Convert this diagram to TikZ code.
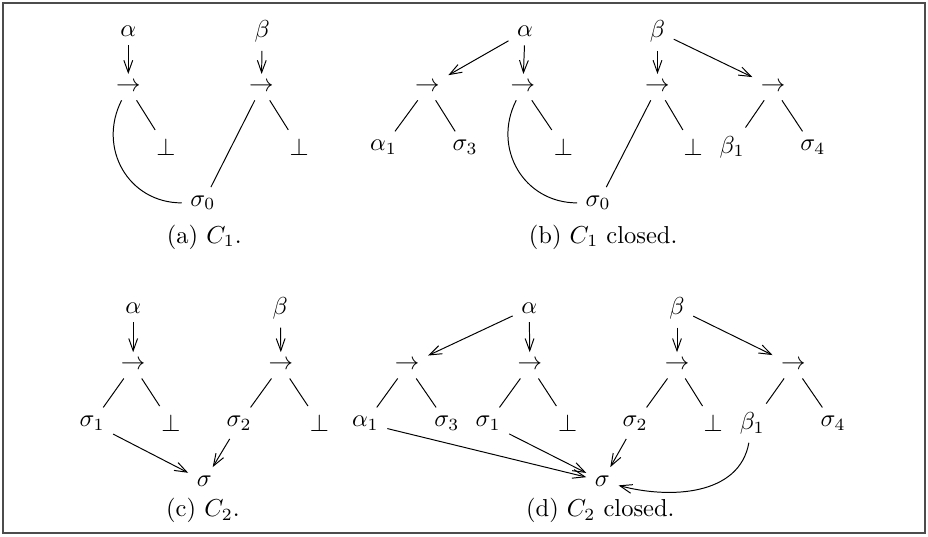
\documentclass[tikz,border=0pt]{standalone}
\usepackage{amsmath}
\usetikzlibrary{arrows.meta}

\begin{document}
\begin{tikzpicture}
\tikzstyle{frame}=[draw=black!70,line width=0.8pt]
\tikzstyle{link}=[-{Straight Barb[length=5pt,width=3.6pt]}]
\tikzstyle{branch}=[-]
\tikzstyle{loop}=[out=243,in=180,looseness=1.15]

\useasboundingbox (0,0) rectangle (13.31,-7.69);
\draw[frame] (0.04,-0.04) rectangle (13.27,-7.65);

% (a)
\node (aAlpha) at (1.84,-0.45) {$\alpha$};
\node (aBeta)  at (3.76,-0.45) {$\beta$};
\node (aArrL)  at (1.84,-1.25) {$\rightarrow$};
\node (aArrR)  at (3.75,-1.25) {$\rightarrow$};
\node (aBotL)  at (2.38,-2.11) {$\bot$};
\node (aBotR)  at (4.29,-2.11) {$\bot$};
\node (aSigma) at (2.91,-2.91) {$\sigma_0$};
\node (aCap)   at (2.93,-3.40) {(a) $C_1$.};
\draw[link] (aAlpha) -- (aArrL);
\draw[link] (aBeta) -- (aArrR);
\draw[branch] (aArrL) -- (aBotL);
\draw[branch] (aArrR) -- (aBotR);
\draw[branch] (aArrL) to[loop] (aSigma);
\draw[branch] (aArrR) -- (aSigma);

% (b)
\node (bAlpha)      at (7.53,-0.45)  {$\alpha$};
\node (bBeta)       at (9.43,-0.45)  {$\beta$};
\node (bArrA)       at (6.13,-1.25)  {$\rightarrow$};
\node (bArrB)       at (7.50,-1.25)  {$\rightarrow$};
\node (bArrC)       at (9.43,-1.25)  {$\rightarrow$};
\node (bArrD)       at (11.09,-1.25) {$\rightarrow$};
\node (bAlphaOne)   at (5.50,-2.11)  {$\alpha_1$};
\node (bSigmaThree) at (6.67,-2.11)  {$\sigma_3$};
\node (bBotL)       at (8.08,-2.11)  {$\bot$};
\node (bBotR)       at (9.94,-2.11)  {$\bot$};
\node (bBetaOne)    at (10.50,-2.11) {$\beta_1$};
\node (bSigmaFour)  at (11.66,-2.11) {$\sigma_4$};
\node (bSigma)      at (8.58,-2.91)  {$\sigma_0$};
\node (bCap)        at (8.65,-3.40)  {(b) $C_1$ closed.};
\draw[link] (bAlpha) -- (bArrA);
\draw[link] (bAlpha) -- (bArrB);
\draw[link] (bBeta) -- (bArrC);
\draw[link] (bBeta) -- (bArrD);
\draw[branch] (bArrA) -- (bAlphaOne);
\draw[branch] (bArrA) -- (bSigmaThree);
\draw[branch] (bArrB) -- (bBotL);
\draw[branch] (bArrB) to[loop] (bSigma);
\draw[branch] (bArrC) -- (bBotR);
\draw[branch] (bArrC) -- (bSigma);
\draw[branch] (bArrD) -- (bBetaOne);
\draw[branch] (bArrD) -- (bSigmaFour);

% (c)
\node (cAlpha)    at (1.91,-4.42) {$\alpha$};
\node (cBeta)     at (4.02,-4.42) {$\beta$};
\node (cArrL)     at (1.91,-5.24) {$\rightarrow$};
\node (cArrR)     at (4.03,-5.24) {$\rightarrow$};
\node (cSigmaOne) at (1.32,-6.07) {$\sigma_1$};
\node (cBotL)     at (2.45,-6.07) {$\bot$};
\node (cSigmaTwo) at (3.43,-6.07) {$\sigma_2$};
\node (cBotR)     at (4.58,-6.07) {$\bot$};
\node (cSigma)    at (2.93,-6.90) {$\sigma$};
\node (cCap)      at (2.91,-7.32) {(c) $C_2$.};
\draw[link] (cAlpha) -- (cArrL);
\draw[link] (cBeta) -- (cArrR);
\draw[branch] (cArrL) -- (cSigmaOne);
\draw[branch] (cArrL) -- (cBotL);
\draw[branch] (cArrR) -- (cSigmaTwo);
\draw[branch] (cArrR) -- (cBotR);
\draw[link] (cSigmaOne) -- (cSigma);
\draw[link] (cSigmaTwo) -- (cSigma);

% (d)
\node (dAlpha)      at (7.59,-4.42)  {$\alpha$};
\node (dBeta)       at (9.71,-4.42)  {$\beta$};
\node (dArrA)       at (5.84,-5.24)  {$\rightarrow$};
\node (dArrB)       at (7.60,-5.24)  {$\rightarrow$};
\node (dArrC)       at (9.71,-5.24)  {$\rightarrow$};
\node (dArrD)       at (11.38,-5.24) {$\rightarrow$};
\node (dAlphaOne)   at (5.24,-6.07)  {$\alpha_1$};
\node (dSigmaThree) at (6.41,-6.07)  {$\sigma_3$};
\node (dSigmaOne)   at (7.00,-6.07)  {$\sigma_1$};
\node (dBotL)       at (8.14,-6.07)  {$\bot$};
\node (dSigmaTwo)   at (9.11,-6.07)  {$\sigma_2$};
\node (dBotR)       at (10.23,-6.07) {$\bot$};
\node (dBetaOne)    at (10.79,-6.07) {$\beta_1$};
\node (dSigmaFour)  at (11.95,-6.07) {$\sigma_4$};
\node (dSigma)      at (8.64,-6.90)  {$\sigma$};
\node (dCap)        at (8.61,-7.32)  {(d) $C_2$ closed.};
\draw[link] (dAlpha) -- (dArrA);
\draw[link] (dAlpha) -- (dArrB);
\draw[link] (dBeta) -- (dArrC);
\draw[link] (dBeta) -- (dArrD);
\draw[branch] (dArrA) -- (dAlphaOne);
\draw[branch] (dArrA) -- (dSigmaThree);
\draw[branch] (dArrB) -- (dSigmaOne);
\draw[branch] (dArrB) -- (dBotL);
\draw[branch] (dArrC) -- (dSigmaTwo);
\draw[branch] (dArrC) -- (dBotR);
\draw[branch] (dArrD) -- (dBetaOne);
\draw[branch] (dArrD) -- (dSigmaFour);
\draw[link] (dAlphaOne) -- (dSigma);
\draw[link] (dSigmaOne) -- (dSigma);
\draw[link] (dSigmaTwo) -- (dSigma);
\draw[link] (dBetaOne) to[out=260,in=-15] (dSigma);

\end{tikzpicture}
\end{document}
